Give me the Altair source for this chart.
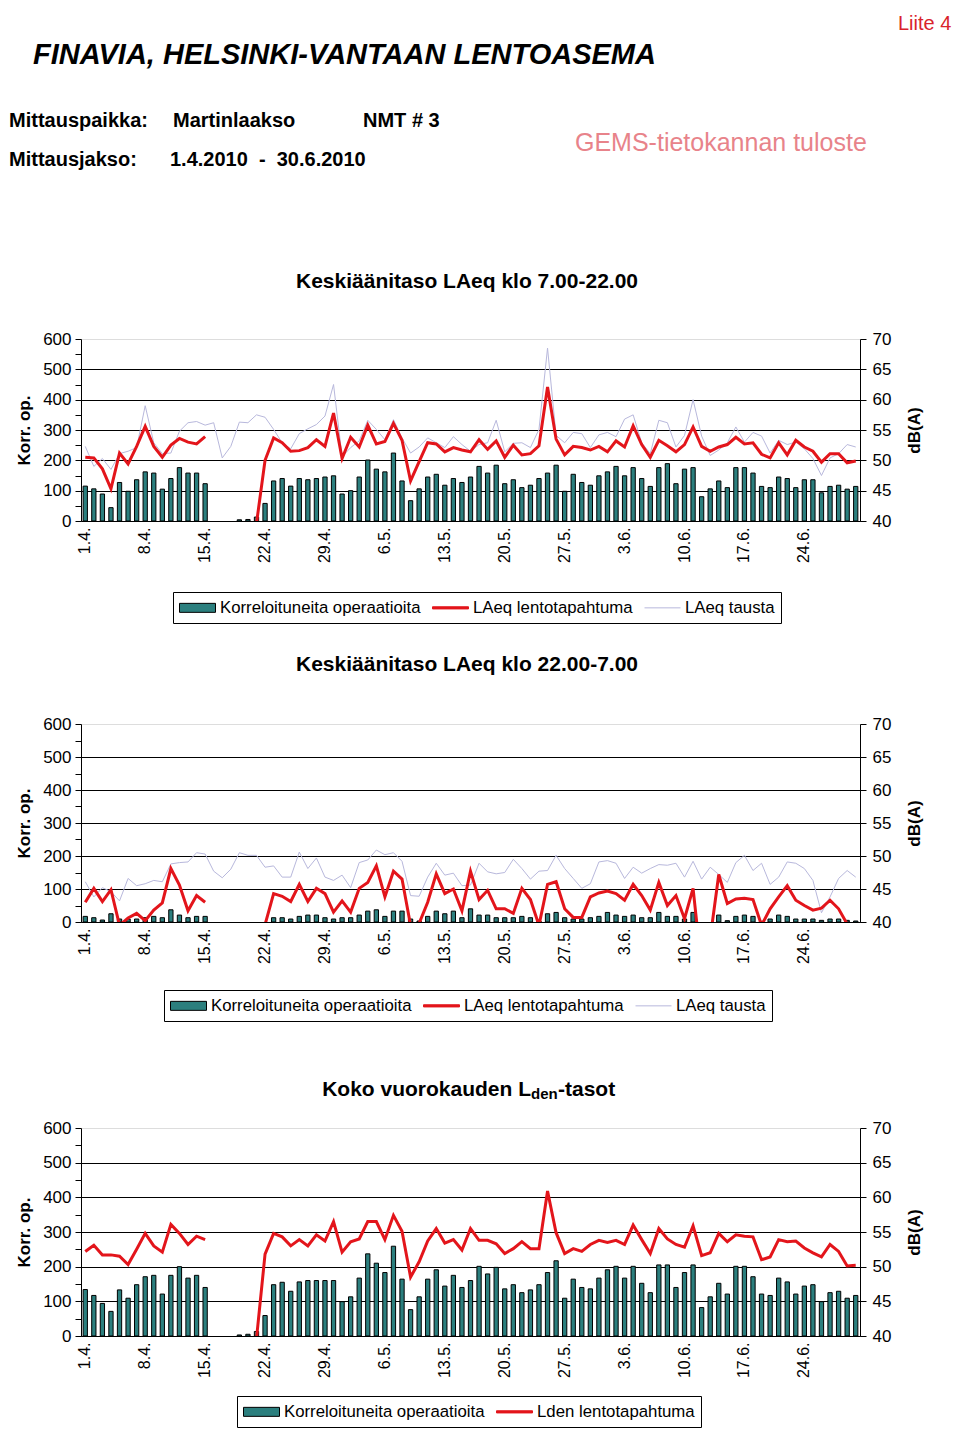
import altair as alt
import pandas as pd

FONT = "Liberation Sans"
TEAL = "#2b7f7e"
RED = "#e3151b"
LAV = "#b8b8dc"

# ---- categories -------------------------------------------------------
days = [f"{d}.{m}." for m, n in [(4, 30), (5, 31), (6, 30)] for d in range(1, n + 1)]
tick_labels = ["1.4.", "8.4.", "15.4.", "22.4.", "29.4.", "6.5.", "13.5.",
               "20.5.", "27.5.", "3.6.", "10.6.", "17.6.", "24.6."]
N = None

# ---- chart 1: LAeq 7-22 ----------------------------------------------
bars1 = [115, 106, 89, 44, 127, 98, 136, 162, 158, 105, 140, 176, 158, 158, 123,
         N, N, N, 4, 5, 13,
         58, 132, 140, 115, 140, 136, 140, 145, 149, 89, 100, 145, 201, 171, 162, 224, 132, 67, 106, 145,
         154, 118, 140, 127,
         145, 180, 158, 184, 123, 136, 110, 118, 140, 158, 184, 98, 154, 127, 118, 149, 162, 180, 149, 176,
         140, 114, 176, 189, 123, 171, 176, 80, 106, 132, 110, 176, 176, 158, 114, 110, 145, 140, 110, 136,
         136, 93, 114, 118, 105, 114]
red1 = [50.5, 50.4, 48.6, 45.3, 51.2, 49.4, 52.3, 55.6, 52.3, 50.5, 52.5, 53.6, 53.0, 52.7, 53.9,
        N, N, N, N, N, 39.6,
        50.0, 53.7, 52.9, 51.5, 51.6, 52.1, 53.4, 52.3, 57.8, 50.3, 53.8, 52.2, 55.8, 52.7, 53.1, 56.1,
        53.3, 46.6, 49.8, 52.9, 52.7, 51.4, 52.1, 51.7,
        51.4, 53.4, 51.8, 53.2, 50.5, 52.5, 50.9, 51.1, 52.4, 62.1, 53.5, 50.9, 52.3, 52.1, 51.7, 52.3,
        51.4, 53.2, 52.2, 55.7, 52.6, 50.5, 53.3, 52.4, 51.4, 52.6, 55.5, 52.3, 51.5, 52.2, 52.6, 53.8,
        52.7, 52.9, 51.0, 50.4, 52.9, 50.9, 53.3, 52.2, 51.5, 49.7, 51.1, 51.1, 49.6, 49.9]
bg1 = [52.3, 49.0, 50.3, 48.5, 51.1, 51.5, 52.1, 59.0, 52.9, 51.1, 51.2, 54.8, 56.2, 56.4, 55.8,
       56.2, 50.4, 52.3, 56.3, 56.2, 57.5, 57.1, 55.1, 52.9, 51.9, 54.4, 55.2, 55.9, 57.3, 62.5,
       50.6, 52.1, 53.2, 56.6, 55.1, 53.4, 56.7, 53.7, 51.2, 52.2, 53.7, 52.9, 52.1, 53.9, 52.6,
       51.5, 52.6, 52.9, 56.6, 51.4, 52.8, 52.9, 52.1, 55.1, 68.5, 54.1, 52.9, 54.6, 54.4, 52.1,
       54.2, 54.6, 53.9, 56.8, 57.5, 52.9, 51.1, 56.6, 56.2, 52.2, 54.1, 60.0, 54.0, 50.8, 51.7,
       52.9, 55.5, 53.0, 54.6, 54.0, 51.2, 53.3, 52.6, 53.0, 51.9, 50.3, 47.5, 50.4, 51.1, 52.6, 52.2]

# ---- chart 2: LAeq 22-7 ----------------------------------------------
bars2 = [17, 13, 6, 25, 9, 9, 9, 13, 17, 13, 37, 21, 13, 17, 17,
         N, N, N, N, N, N, N,
         13, 13, 9, 17, 21, 21, 13, 9, 13, 13, 21, 33, 37, 17, 33, 33, 9, 3, 17, 33, 25, 33, 13,
         40, 21, 21, 13, 13, 13, 17, 13, 3, 25, 29, 13, 9, 9, 13, 17, 29, 21, 17, 21, 13, 13, 29, 17,
         17, 9, 29, N, N, 21, 4, 17, 21, 17, 2, 9, 21, 17, 9, 9, 9, 5, 9, 9, 5, 3]
red2 = [43.0, 45.1, 43.1, 44.9, 39.5, 40.6, 41.3, 40.2, 41.8, 42.9, 48.1, 45.6, 41.7, 44.0, 43.0,
        N, N, N, N, N, N, 39.6,
        44.3, 43.9, 43.1, 45.7, 43.1, 45.1, 44.3, 41.5, 43.2, 41.5, 45.1, 46.0, 48.5, 43.8, 47.7, 46.5,
        39.5, 39.8, 43.0, 47.3, 44.3, 45.0, 41.7,
        47.7, 43.4, 44.8, 42.0, 42.0, 41.3, 45.1, 43.4, 39.5, 45.7, 46.1, 42.0, 40.7, 40.7, 43.8, 44.4,
        44.7, 44.3, 43.3, 45.7, 44.0, 41.8, 46.0, 42.5, 44.0, 40.5, 45.1, 33.0, 37.5, 47.2, 42.8, 43.5,
        43.6, 43.4, 39.5, 42.0, 43.8, 45.5, 43.3, 42.5, 41.8, 42.1, 43.3, 42.0, 39.7, 39.7]
bg2 = [46.1, 43.8, 45.2, 44.6, 43.2, 46.6, 45.5, 45.8, 46.3, 46.1, 48.8, 49.0, 49.1, 50.5, 50.3,
       47.7, 46.7, 48.0, 50.5, 50.1, 50.1, 48.3, 48.5, 46.8, 46.8, 50.6, 48.1, 49.7, 46.8, 46.3,
       47.1, 45.2, 49.0, 49.4, 50.9, 50.2, 50.5, 49.2, 44.0, 43.9, 46.8, 48.9, 47.1, 47.4, 45.5,
       45.6, 48.9, 47.6, 47.3, 47.5, 49.5, 48.1, 46.5, 47.7, 47.8, 50.1, 48.1, 46.6, 45.1, 45.8,
       49.1, 49.3, 48.9, 46.6, 48.3, 47.4, 48.1, 48.7, 48.6, 48.9, 46.8, 49.2, 46.5, 48.3, 47.2,
       46.0, 49.0, 50.1, 47.8, 48.9, 45.7, 46.8, 49.1, 48.9, 48.1, 46.3, 41.4, 43.8, 46.6, 47.8, 46.8]

# ---- chart 3: Lden ------------------------------------------------------
bars3 = [134, 117, 94, 71, 133, 109, 148, 171, 175, 121, 175, 200, 167, 175, 140,
         N, N, N, 3, 5, 13,
         59, 148, 155, 129, 156, 160, 160, 160, 160, 99, 113, 167, 237, 210, 183, 259, 164, 76, 113, 164,
         191, 144, 175, 140,
         160, 201, 179, 198, 136, 148, 125, 133, 148, 183, 217, 109, 164, 140, 136, 167, 191, 201, 167, 201,
         152, 125, 205, 205, 140, 183, 205, 82, 113, 152, 121, 201, 201, 171, 121, 117, 167, 156, 121, 144,
         148, 99, 125, 129, 109, 117]
red3 = [52.2, 53.1, 51.7, 51.7, 51.5, 50.3, 52.5, 54.8, 53.0, 52.1, 56.1, 54.8, 53.2, 54.4, 53.9,
        N, N, N, N, N, 39.6,
        51.8, 54.8, 54.3, 53.0, 53.9, 53.0, 54.6, 53.7, 56.5, 52.1, 53.6, 54.0, 56.5, 56.5, 53.9, 57.4,
        55.1, 48.5, 50.7, 53.7, 55.5, 53.4, 53.9, 52.4,
        55.5, 53.8, 53.8, 53.3, 51.9, 52.6, 53.6, 52.6, 52.6, 60.9, 54.9, 51.9, 52.6, 52.2, 53.2, 53.8,
        53.5, 53.8, 53.2, 56.0, 53.9, 51.9, 55.5, 54.0, 53.2, 52.8, 55.9, 51.6, 52.0, 54.8, 53.6, 54.6,
        54.4, 54.3, 51.0, 51.4, 53.9, 53.6, 53.7, 52.7, 52.0, 51.4, 53.2, 52.2, 50.1, 50.2]

# ---- texts ------------------------------------------------------------
liite = "Liite 4"
main_title = "FINAVIA, HELSINKI-VANTAAN LENTOASEMA"
info_row1 = ["Mittauspaikka:", "Martinlaakso", "NMT # 3"]
info_row2 = ["Mittausjakso:", "1.4.2010\u00a0 -\u00a0 30.6.2010"]
gems = "GEMS-tietokannan tuloste"
title1 = "Keskiäänitaso LAeq klo 7.00-22.00"
title2 = "Keskiäänitaso LAeq klo 22.00-7.00"
title3 = ["Koko vuorokauden L", "den", "-tasot"]
legend12 = ["Korreloituneita operaatioita", "LAeq lentotapahtuma", "LAeq tausta"]
legend3 = ["Korreloituneita operaatioita", "Lden lentotapahtuma"]
left_title = "Korr. op."
right_title = "dB(A)"

W = 779
SHAPE_BAR = "M-1,-0.5H3V0.5H-1Z"
SHAPE_RED = "M-1,-0.12H3V0.12H-1Z"
SHAPE_LAV = "M-1,0H3"


def txt(t, x, y, size, weight="normal", style="normal", align="left", color="black", baseline="middle"):
    return alt.Chart(pd.DataFrame({"t": [t]})).mark_text(
        font=FONT, fontSize=size, fontWeight=weight, fontStyle=style, align=align,
        baseline=baseline, color=color).encode(text="t:N", x=alt.value(x), y=alt.value(y))


def spacer(top, bottom):
    return alt.Chart(pd.DataFrame({"t": [0]})).mark_rule(color="white", strokeWidth=1).encode(
        x=alt.value(-72), y=alt.value(top), y2=alt.value(bottom))


def panel(bars, red, bg, height, names, fills, strokes, shapes, lx, ly, extra):
    df = pd.DataFrame({"d": days, "bars": bars, "red": red})
    if bg is not None:
        df["bg"] = bg
    X = alt.X("d:O", scale=alt.Scale(domain=days, paddingInner=0.5, paddingOuter=0.25),
              axis=alt.Axis(values=tick_labels, labelAngle=270, tickSize=0, labelPadding=6,
                            title=None, grid=False, labelFontSize=16))
    yb = alt.Y("bars:Q", scale=alt.Scale(domain=[0, 600]),
               axis=alt.Axis(orient="left", values=list(range(0, 601, 50)),
                             labelExpr="datum.value % 100 === 0 ? datum.label : ''",
                             title=left_title, titleFontSize=17, titleFontWeight="bold",
                             titlePadding=9, tickSize=6, labelPadding=4, labelFontSize=17,
                             grid=True, gridWidth=1,
                             gridColor={"condition": {"test": "datum.value === 600", "value": "#dddddd"},
                                        "value": "black"},
                             gridOpacity={"condition": {"test": "datum.value % 100 !== 0", "value": 0},
                                          "value": 1}))
    dbaxis = alt.Axis(orient="right", values=list(range(40, 71, 5)), title=right_title,
                      titleFontSize=17, titleFontWeight="bold", titleAngle=270,
                      titlePadding=33, tickSize=6, labelPadding=6, labelFontSize=17, grid=False)
    dbscale = alt.Scale(domain=[40, 70])
    bar_l = alt.Chart(df).mark_bar(fill=TEAL, stroke="black", strokeWidth=1).encode(x=X, y=yb)
    red_l = alt.Chart(df).mark_line(color=RED, strokeWidth=3, clip=True,
                                    invalid="break-paths-filter-domains").encode(
        x=X, y=alt.Y("red:Q", scale=dbscale, axis=dbaxis))
    if bg is not None:
        bg_l = alt.Chart(df).mark_line(color=LAV, strokeWidth=1, clip=True,
                                       invalid="break-paths-filter-domains").encode(
            x=X, y=alt.Y("bg:Q", scale=dbscale, axis=dbaxis))
        lines = alt.layer(bg_l, red_l)
    else:
        lines = red_l
    L = alt.Legend(title=None, orient="none", legendX=lx, legendY=ly, direction="horizontal",
                   strokeColor="black", fillColor="white", padding=6, labelFontSize=16.8,
                   labelLimit=400, symbolSize=324, symbolStrokeWidth=1, labelOffset=22,
                   columnPadding=9, symbolOpacity=1)
    leg = alt.Chart(pd.DataFrame({"s": names})).transform_filter("false").mark_point(
        filled=True, size=324, opacity=1).encode(
        fill=alt.Fill("s:N", scale=alt.Scale(domain=names, range=fills), legend=L),
        stroke=alt.Stroke("s:N", scale=alt.Scale(domain=names, range=strokes), legend=L),
        shape=alt.Shape("s:N", scale=alt.Scale(domain=names, range=shapes), legend=L))
    return alt.layer(bar_l, lines, leg, *extra).resolve_scale(y="independent").properties(
        width=W, height=height)


c1_extra = [
    spacer(-330, 301),
    txt(liite, 817, -315, 20, color="#d9232b", align="left"),
    txt(main_title, -48, -284, 29, weight="bold", style="italic"),
    txt(info_row1[0], -72, -218, 20, weight="bold"),
    txt(info_row1[1], 92, -218, 20, weight="bold"),
    txt(info_row1[2], 282, -218, 20, weight="bold"),
    txt(info_row2[0], -72, -179, 20, weight="bold"),
    txt(info_row2[1], 89, -179, 20, weight="bold"),
    txt(gems, 494, -196, 25, color="#e8838a"),
    txt(title1, 386, -57, 21, weight="bold", align="center"),
]
c2_extra = [
    spacer(-82, 316),
    txt(title2, 386, -59, 21, weight="bold", align="center"),
]
c3_extra = [
    spacer(-86, 300),
    txt(title3[0], 450, -38, 21, weight="bold", align="right"),
    txt(title3[1], 450, -34, 15, weight="bold", align="left"),
    txt(title3[2], 477, -38, 21, weight="bold", align="left"),
]

p1 = panel(bars1, red1, bg1, 182, legend12, [TEAL, RED, LAV], ["black", RED, LAV],
           [SHAPE_BAR, SHAPE_RED, SHAPE_LAV], 92, 253, c1_extra)
p2 = panel(bars2, red2, bg2, 198, legend12, [TEAL, RED, LAV], ["black", RED, LAV],
           [SHAPE_BAR, SHAPE_RED, SHAPE_LAV], 83, 266, c2_extra)
p3 = panel(bars3, red3, None, 208, legend3, [TEAL, RED], ["black", RED],
           [SHAPE_BAR, SHAPE_RED], 156, 268, c3_extra)

chart = alt.vconcat(p1, p2, p3, spacing=0).resolve_scale(
    x="independent", y="independent", fill="independent", stroke="independent", shape="independent"
).resolve_legend(fill="independent", stroke="independent", shape="independent").properties(
    padding=0
).configure(font=FONT).configure_view(strokeWidth=0).configure_axis(
    labelFont=FONT, titleFont=FONT, labelColor="black", titleColor="black",
    domainColor="black", tickColor="black", domainWidth=1, tickWidth=1
).configure_legend(labelFont=FONT, labelColor="black")

chart.save("out.html", embed_options={"renderer": "svg", "actions": False})
